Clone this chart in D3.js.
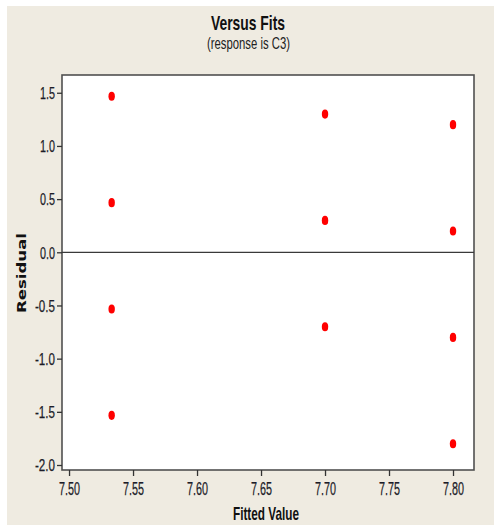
<!DOCTYPE html>
<html>
<head>
<meta charset="utf-8">
<script src="https://cdn.jsdelivr.net/npm/d3@7"></script>
<style>
  html, body { margin: 0; padding: 0; background: #ffffff; }
  svg { display: block; }
</style>
</head>
<body>
<script>
// ---- data ----
const fittedValues = [7.5333, 7.5333, 7.5333, 7.5333, 7.70, 7.70, 7.70, 7.80, 7.80, 7.80, 7.80];
const residuals    = [1.467, 0.467, -0.533, -1.533, 1.30, 0.30, -0.70, 1.20, 0.20, -0.80, -1.80];
const xTicks = [7.50, 7.55, 7.60, 7.65, 7.70, 7.75, 7.80];
const yTicks = [1.5, 1.0, 0.5, 0.0, -0.5, -1.0, -1.5, -2.0];
const titleText = "Versus Fits";
const subtitleText = "(response is C3)";
const xLabel = "Fitted Value";
const yLabel = "Residual";

// ---- layout ----
const W = 494, H = 525;
const plot = { left: 62, right: 474, top: 75, bottom: 470 };
const narrow = "'Liberation Sans Narrow', 'Liberation Sans', Arial, sans-serif";

const svg = d3.select("body").append("svg").attr("width", W).attr("height", H);

svg.append("rect").attr("x", 7).attr("y", 6).attr("width", W - 7).attr("height", H - 6)
  .attr("fill", "#efebe1");

const x = d3.scaleLinear().domain([7.4945, 7.8164]).range([plot.left, plot.right]);
const y = d3.scaleLinear().domain([-2.047, 1.667]).range([plot.bottom, plot.top]);

// plot area
svg.append("rect")
  .attr("x", plot.left).attr("y", plot.top)
  .attr("width", plot.right - plot.left).attr("height", plot.bottom - plot.top)
  .attr("fill", "#ffffff").attr("stroke", "#505050").attr("stroke-width", 1.6);

function estWidth(s, digitW, dotW, minusW) {
  let w = 0;
  for (const c of s) w += (c === ".") ? dotW : (c === "-") ? minusW : digitW;
  return w;
}

// y axis
const yAxis = d3.axisLeft(y).tickValues(yTicks)
  .tickFormat(d => d3.format(".1f")(d).replace("−", "-")).tickSize(5).tickPadding(2);
const gy = svg.append("g").attr("transform", `translate(${plot.left},0)`).call(yAxis);
gy.select(".domain").remove();
gy.selectAll(".tick line").attr("stroke", "#333").attr("stroke-width", 1.3);
gy.selectAll(".tick text")
  .attr("font-family", narrow)
  .attr("font-size", 16).attr("fill", "#1c1c28")
  .attr("stroke", "#1c1c28").attr("stroke-width", 0.25)
  .attr("dy", "0.36em")
  .each(function() {
    const t = d3.select(this);
    t.attr("textLength", estWidth(t.text(), 6, 3, 5)).attr("lengthAdjust", "spacingAndGlyphs");
  });

// x axis
const xAxis = d3.axisBottom(x).tickValues(xTicks).tickFormat(d3.format(".2f")).tickSize(6).tickPadding(6);
const gx = svg.append("g").attr("transform", `translate(0,${plot.bottom})`).call(xAxis);
gx.select(".domain").remove();
gx.selectAll(".tick line").attr("stroke", "#333").attr("stroke-width", 1.3);
gx.selectAll(".tick text")
  .attr("font-family", narrow)
  .attr("font-size", 19).attr("fill", "#1c1c28")
  .attr("stroke", "#1c1c28").attr("stroke-width", 0.25)
  .each(function() {
    const t = d3.select(this);
    t.attr("textLength", estWidth(t.text(), 6, 3, 5)).attr("lengthAdjust", "spacingAndGlyphs");
  });

// zero reference line
svg.append("line")
  .attr("x1", plot.left).attr("x2", plot.right)
  .attr("y1", y(0)).attr("y2", y(0))
  .attr("stroke", "#3a3a3a").attr("stroke-width", 1.3);

// points
svg.append("g").selectAll("ellipse")
  .data(fittedValues.map((f, i) => ({ f, r: residuals[i] })))
  .join("ellipse")
  .attr("cx", d => x(d.f)).attr("cy", d => y(d.r))
  .attr("rx", 3.2).attr("ry", 4.6)
  .attr("fill", "#ff0000");

// titles
svg.append("text").attr("x", 248).attr("y", 30).attr("text-anchor", "middle")
  .attr("font-family", narrow)
  .attr("font-weight", "bold").attr("font-size", 21).attr("fill", "#111")
  .attr("textLength", 74).attr("lengthAdjust", "spacingAndGlyphs")
  .text(titleText);

svg.append("text").attr("x", 248.5).attr("y", 49).attr("text-anchor", "middle")
  .attr("font-family", narrow)
  .attr("font-size", 16).attr("fill", "#222")
  .attr("textLength", 83).attr("lengthAdjust", "spacingAndGlyphs")
  .text(subtitleText);

svg.append("text").attr("x", 266).attr("y", 520).attr("text-anchor", "middle")
  .attr("font-family", narrow)
  .attr("font-weight", "bold").attr("font-size", 19).attr("fill", "#111")
  .attr("textLength", 66).attr("lengthAdjust", "spacingAndGlyphs")
  .text(xLabel);

svg.append("text")
  .attr("transform", "translate(26,273) rotate(-90)")
  .attr("text-anchor", "middle")
  .attr("font-family", "'DejaVu Sans', Verdana, sans-serif")
  .attr("font-weight", "bold").attr("font-size", 12).attr("fill", "#111")
  .attr("textLength", 80).attr("lengthAdjust", "spacingAndGlyphs")
  .text(yLabel);
</script>
</body>
</html>
